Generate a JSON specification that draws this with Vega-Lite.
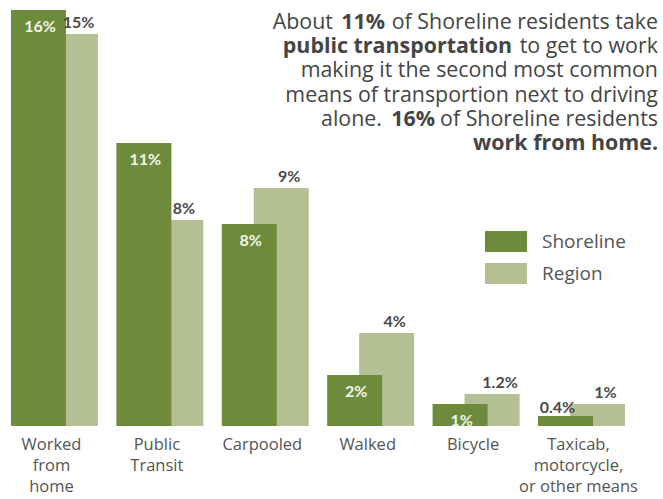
{
  "$schema": "https://vega.github.io/schema/vega-lite/v6.json",
  "width": 663,
  "height": 426,
  "autosize": {"type": "none"},
  "padding": {"left": 0, "top": 0, "right": 0, "bottom": 73},
  "background": "white",
  "config": {"view": {"stroke": null}, "font": "Open Sans"},
  "layer": [
    {
      "data": {
        "values": [
          {"mode": "Worked from home", "series": "Region", "value": 15.08, "label": "15%"},
          {"mode": "Public Transit", "series": "Region", "value": 7.92, "label": "8%"},
          {"mode": "Carpooled", "series": "Region", "value": 9.15, "label": "9%"},
          {"mode": "Walked", "series": "Region", "value": 3.58, "label": "4%"},
          {"mode": "Bicycle", "series": "Region", "value": 1.23, "label": "1.2%"},
          {"mode": "Taxicab, motorcycle, or other means", "series": "Region", "value": 0.85, "label": "1%"},
          {"mode": "Worked from home", "series": "Shoreline", "value": 16.0, "label": "16%"},
          {"mode": "Public Transit", "series": "Shoreline", "value": 10.88, "label": "11%"},
          {"mode": "Carpooled", "series": "Shoreline", "value": 7.77, "label": "8%"},
          {"mode": "Walked", "series": "Shoreline", "value": 1.96, "label": "2%"},
          {"mode": "Bicycle", "series": "Shoreline", "value": 0.85, "label": "1%"},
          {"mode": "Taxicab, motorcycle, or other means", "series": "Shoreline", "value": 0.38, "label": "0.4%"}
        ]
      },
      "encoding": {
        "x": {
          "field": "mode",
          "type": "nominal",
          "sort": null,
          "scale": {"paddingInner": 0.175, "paddingOuter": 0.2325, "align": 0.224},
          "axis": {
            "title": null,
            "domain": false,
            "ticks": false,
            "labelAngle": 0,
            "labelAlign": "center",
            "labelBaseline": "top",
            "labelPadding": 10,
            "labelOffset": -3,
            "labelFont": "Open Sans",
            "labelFontSize": 16.5,
            "labelColor": "#555555",
            "labelLineHeight": 21,
            "labelExpr": "datum.value == 'Worked from home' ? ['Worked','from','home'] : datum.value == 'Public Transit' ? ['Public','Transit'] : datum.value == 'Taxicab, motorcycle, or other means' ? ['Taxicab,','motorcycle,','or other means'] : datum.value"
          }
        },
        "xOffset": {
          "field": "series",
          "type": "nominal",
          "scale": {"domain": ["Shoreline", "Region"], "paddingInner": 0, "paddingOuter": 0.359}
        },
        "y": {
          "field": "value",
          "type": "quantitative",
          "scale": {"domain": [0, 16.3846], "nice": false},
          "axis": null
        }
      },
      "layer": [
        {
          "mark": {"type": "bar", "width": 55},
          "encoding": {
            "color": {
              "field": "series",
              "type": "nominal",
              "scale": {"domain": ["Shoreline", "Region"], "range": ["#6e8b3b", "#b4bf94"]},
              "legend": {
                "title": null,
                "orient": "none",
                "legendX": 485,
                "legendY": 220.5,
                "padding": 0,
                "symbolType": "M-1,-0.5H1V0.5H-1Z",
                "symbolSize": 1764,
                "symbolStrokeWidth": 0,
                "labelFont": "Open Sans",
                "labelFontSize": 19,
                "labelColor": "#555555",
                "labelOffset": 15,
                "rowPadding": -1
              }
            }
          }
        },
        {
          "transform": [{"filter": "datum.series == 'Shoreline' && datum.value >= 0.5"}],
          "mark": {"type": "text", "font": "Lato", "fontWeight": "bold", "fontSize": 16, "color": "#f4f4ec", "baseline": "top", "dy": 9, "dx": 1.5},
          "encoding": {"text": {"field": "label"}}
        },
        {
          "transform": [{"filter": "datum.series == 'Shoreline' && datum.value < 0.5"}],
          "mark": {"type": "text", "font": "Lato", "fontWeight": "bold", "fontSize": 16, "color": "#4a4a4a", "baseline": "alphabetic", "dy": -3, "dx": -8},
          "encoding": {"text": {"field": "label"}}
        },
        {
          "transform": [{"filter": "datum.series == 'Region'"}],
          "mark": {"type": "text", "font": "Lato", "fontWeight": "bold", "fontSize": 16, "color": "#4a4a4a", "baseline": "alphabetic", "dy": -6, "dx": 8},
          "encoding": {"text": {"field": "label"}}
        }
      ]
    },
    {
      "data": {"values": [{}]},
      "encoding": {
        "x": {"datum": "Taxicab, motorcycle, or other means"}
      },
      "layer": [
        {
          "mark": {"type": "text", "font": "Open Sans", "fontSize": 21.4, "color": "#454545", "align": "right", "baseline": "alphabetic", "dx": 76.5, "text": "of Shoreline residents take"},
          "encoding": {"y": {"datum": 15.27}}
        },
        {
          "mark": {"type": "text", "font": "Open Sans", "fontSize": 21.4, "color": "#454545", "align": "right", "baseline": "alphabetic", "dx": 76.5, "text": "to get to work"},
          "encoding": {"y": {"datum": 14.346}}
        },
        {
          "mark": {"type": "text", "font": "Open Sans", "fontSize": 21.4, "color": "#454545", "align": "right", "baseline": "alphabetic", "dx": 76.5, "text": "making it the second most common"},
          "encoding": {"y": {"datum": 13.423}}
        },
        {
          "mark": {"type": "text", "font": "Open Sans", "fontSize": 21.4, "color": "#454545", "align": "right", "baseline": "alphabetic", "dx": 76.5, "text": "means of transportion next to driving"},
          "encoding": {"y": {"datum": 12.462}}
        },
        {
          "mark": {"type": "text", "font": "Open Sans", "fontSize": 21.4, "color": "#454545", "align": "right", "baseline": "alphabetic", "dx": 76.5, "text": "of Shoreline residents"},
          "encoding": {"y": {"datum": 11.538}}
        },
        {
          "mark": {"type": "text", "font": "Open Sans", "fontSize": 21.4, "fontWeight": "bold", "color": "#454545", "align": "right", "baseline": "alphabetic", "dx": 76.5, "text": "work from home."},
          "encoding": {"y": {"datum": 10.615}}
        },
        {
          "mark": {"type": "text", "font": "Open Sans", "fontSize": 21.4, "fontWeight": "bold", "color": "#454545", "align": "right", "baseline": "alphabetic", "dx": -196.5, "text": "11%"},
          "encoding": {"y": {"datum": 15.27}}
        },
        {
          "mark": {"type": "text", "font": "Open Sans", "fontSize": 21.4, "color": "#454545", "align": "right", "baseline": "alphabetic", "dx": -248.5, "text": "About"},
          "encoding": {"y": {"datum": 15.27}}
        },
        {
          "mark": {"type": "text", "font": "Open Sans", "fontSize": 21.4, "fontWeight": "bold", "color": "#454545", "align": "right", "baseline": "alphabetic", "dx": -69.5, "text": "public transportation"},
          "encoding": {"y": {"datum": 14.346}}
        },
        {
          "mark": {"type": "text", "font": "Open Sans", "fontSize": 21.4, "fontWeight": "bold", "color": "#454545", "align": "right", "baseline": "alphabetic", "dx": -146.5, "text": "16%"},
          "encoding": {"y": {"datum": 11.538}}
        },
        {
          "mark": {"type": "text", "font": "Open Sans", "fontSize": 21.4, "color": "#454545", "align": "right", "baseline": "alphabetic", "dx": -199.5, "text": "alone."},
          "encoding": {"y": {"datum": 11.538}}
        }
      ]
    }
  ]
}
